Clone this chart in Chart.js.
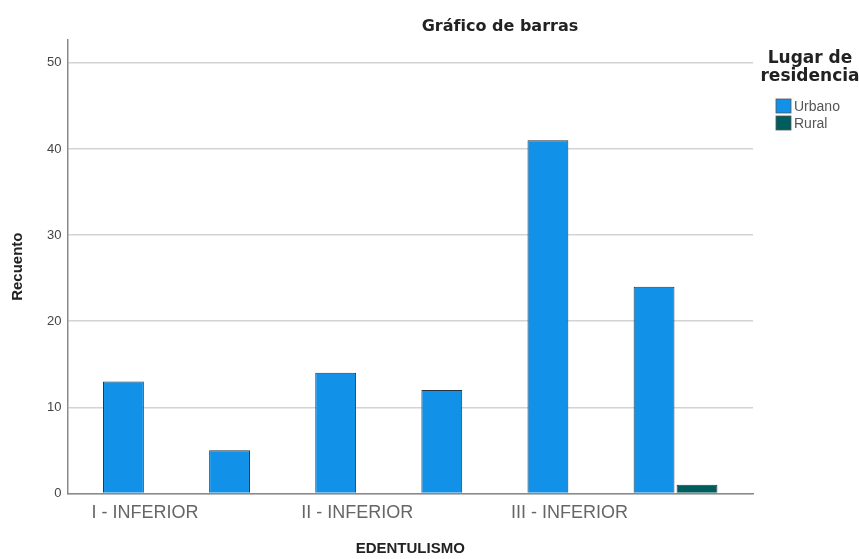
<!DOCTYPE html>
<html lang="es">
<head>
<meta charset="UTF-8">
<title>Gráfico de barras</title>
<script src="https://cdn.jsdelivr.net/npm/chart.js"></script>
<style>
    html, body { margin: 0; padding: 0; background: #ffffff; }
    #wrap { width: 859px; height: 559px; position: relative; }
</style>
</head>
<body>
<div id="wrap"><canvas id="chart"></canvas></div>
<script>
    // Datos (SPSS)
    const categories = ['I - INFERIOR', 'I - SUPERIOR', 'II - INFERIOR', 'II - SUPERIOR', 'III - INFERIOR', 'III - SUPERIOR'];
    const urbano = [13, 5, 14, 12, 41, 24];
    const rural = [0, 0, 0, 0, 0, 1];
    const seriesNames = ['Urbano', 'Rural'];
    const seriesColors = ['#1192e8', '#005d5d'];
    const yTicks = [0, 10, 20, 30, 40, 50];
    const shownLabels = [0, 2, 4]; // SPSS solo muestra una de cada dos etiquetas

    const chartTitle = 'Gráfico de barras';
    const legendTitle = ['Lugar de', 'residencia'];

    // titulo y leyenda al estilo SPSS
    const spssDecor = {
        id: 'spssDecor',
        afterDraw(chart) {
            const ctx = chart.ctx;
            const right = chart.chartArea.right;
            ctx.save();
            ctx.textAlign = 'center';
            ctx.textBaseline = 'middle';
            ctx.fillStyle = '#222';
            ctx.font = 'bold 16px "DejaVu Sans"';
            ctx.fillText(chartTitle, right - 253, 27);

            ctx.font = 'bold 17px "DejaVu Sans"';
            legendTitle.forEach((t, i) => ctx.fillText(t, right + 57, 59 + i * 18));

            ctx.textAlign = 'left';
            ctx.font = '14px "Liberation Sans"';
            chart.data.datasets.forEach((ds, i) => {
                const y = 106 + i * 17;
                ctx.fillStyle = ds.backgroundColor;
                ctx.fillRect(right + 23, y - 7, 15, 14);
                ctx.strokeStyle = '#555';
                ctx.lineWidth = 0.8;
                ctx.strokeRect(right + 23, y - 7, 15, 14);
                ctx.fillStyle = '#555';
                ctx.fillText(ds.label, right + 41, y + 1);
            });
            ctx.restore();
        }
    };

    const ctx = document.getElementById('chart').getContext('2d');
    const chart = new Chart(ctx, {
        type: 'bar',
        data: {
            datasets: [
                {
                    label: seriesNames[0],
                    data: urbano.map((v, i) => ({ x: i, y: v })),
                    backgroundColor: seriesColors[0],
                    borderColor: '#263440',
                    borderWidth: 1
                },
                {
                    label: seriesNames[1],
                    data: rural.map((v, i) => ({ x: i, y: v })),
                    backgroundColor: seriesColors[1],
                    borderColor: '#263440',
                    borderWidth: 1
                }
            ]
        },
        options: {
            responsive: true,
            maintainAspectRatio: false,
            animation: false,
            barPercentage: 0.95,
            categoryPercentage: 0.81,
            layout: { padding: { top: 40, right: 106, left: 0, bottom: 0 } },
            plugins: {
                legend: { display: false },
                title: { display: false },
                tooltip: { enabled: false }
            },
            scales: {
                x: {
                    type: 'linear',
                    offset: false,
                    min: -0.73,
                    max: 5.73,
                    grid: { display: false, drawTicks: false },
                    border: { display: true, color: '#8a8a8a', width: 1.5 },
                    afterBuildTicks: (scale) => {
                        scale.ticks = shownLabels.map(i => ({ value: i }));
                    },
                    ticks: {
                        autoSkip: false,
                        maxRotation: 0,
                        padding: 9,
                        color: '#666',
                        font: { family: 'Liberation Sans', size: 18 },
                        callback: (v) => categories[v]
                    },
                    title: {
                        display: true,
                        text: 'EDENTULISMO',
                        color: '#222',
                        font: { family: 'Liberation Sans', size: 15, weight: 'bold' },
                        padding: { top: 7, bottom: 1 }
                    }
                },
                y: {
                    min: 0,
                    max: 52.65,
                    afterBuildTicks: (scale) => {
                        scale.ticks = yTicks.map(v => ({ value: v }));
                    },
                    grid: { color: '#d3d3d3', lineWidth: 1.5, drawTicks: false },
                    border: { display: true, color: '#8a8a8a', width: 1.5 },
                    ticks: {
                        padding: 6,
                        color: '#444',
                        font: { family: 'Liberation Sans', size: 13 }
                    },
                    title: {
                        display: true,
                        text: 'Recuento',
                        color: '#222',
                        font: { family: 'Liberation Sans', size: 15, weight: 'bold' },
                        padding: { top: 9, bottom: 14 }
                    }
                }
            }
        },
        plugins: [spssDecor]
    });
</script>
</body>
</html>
